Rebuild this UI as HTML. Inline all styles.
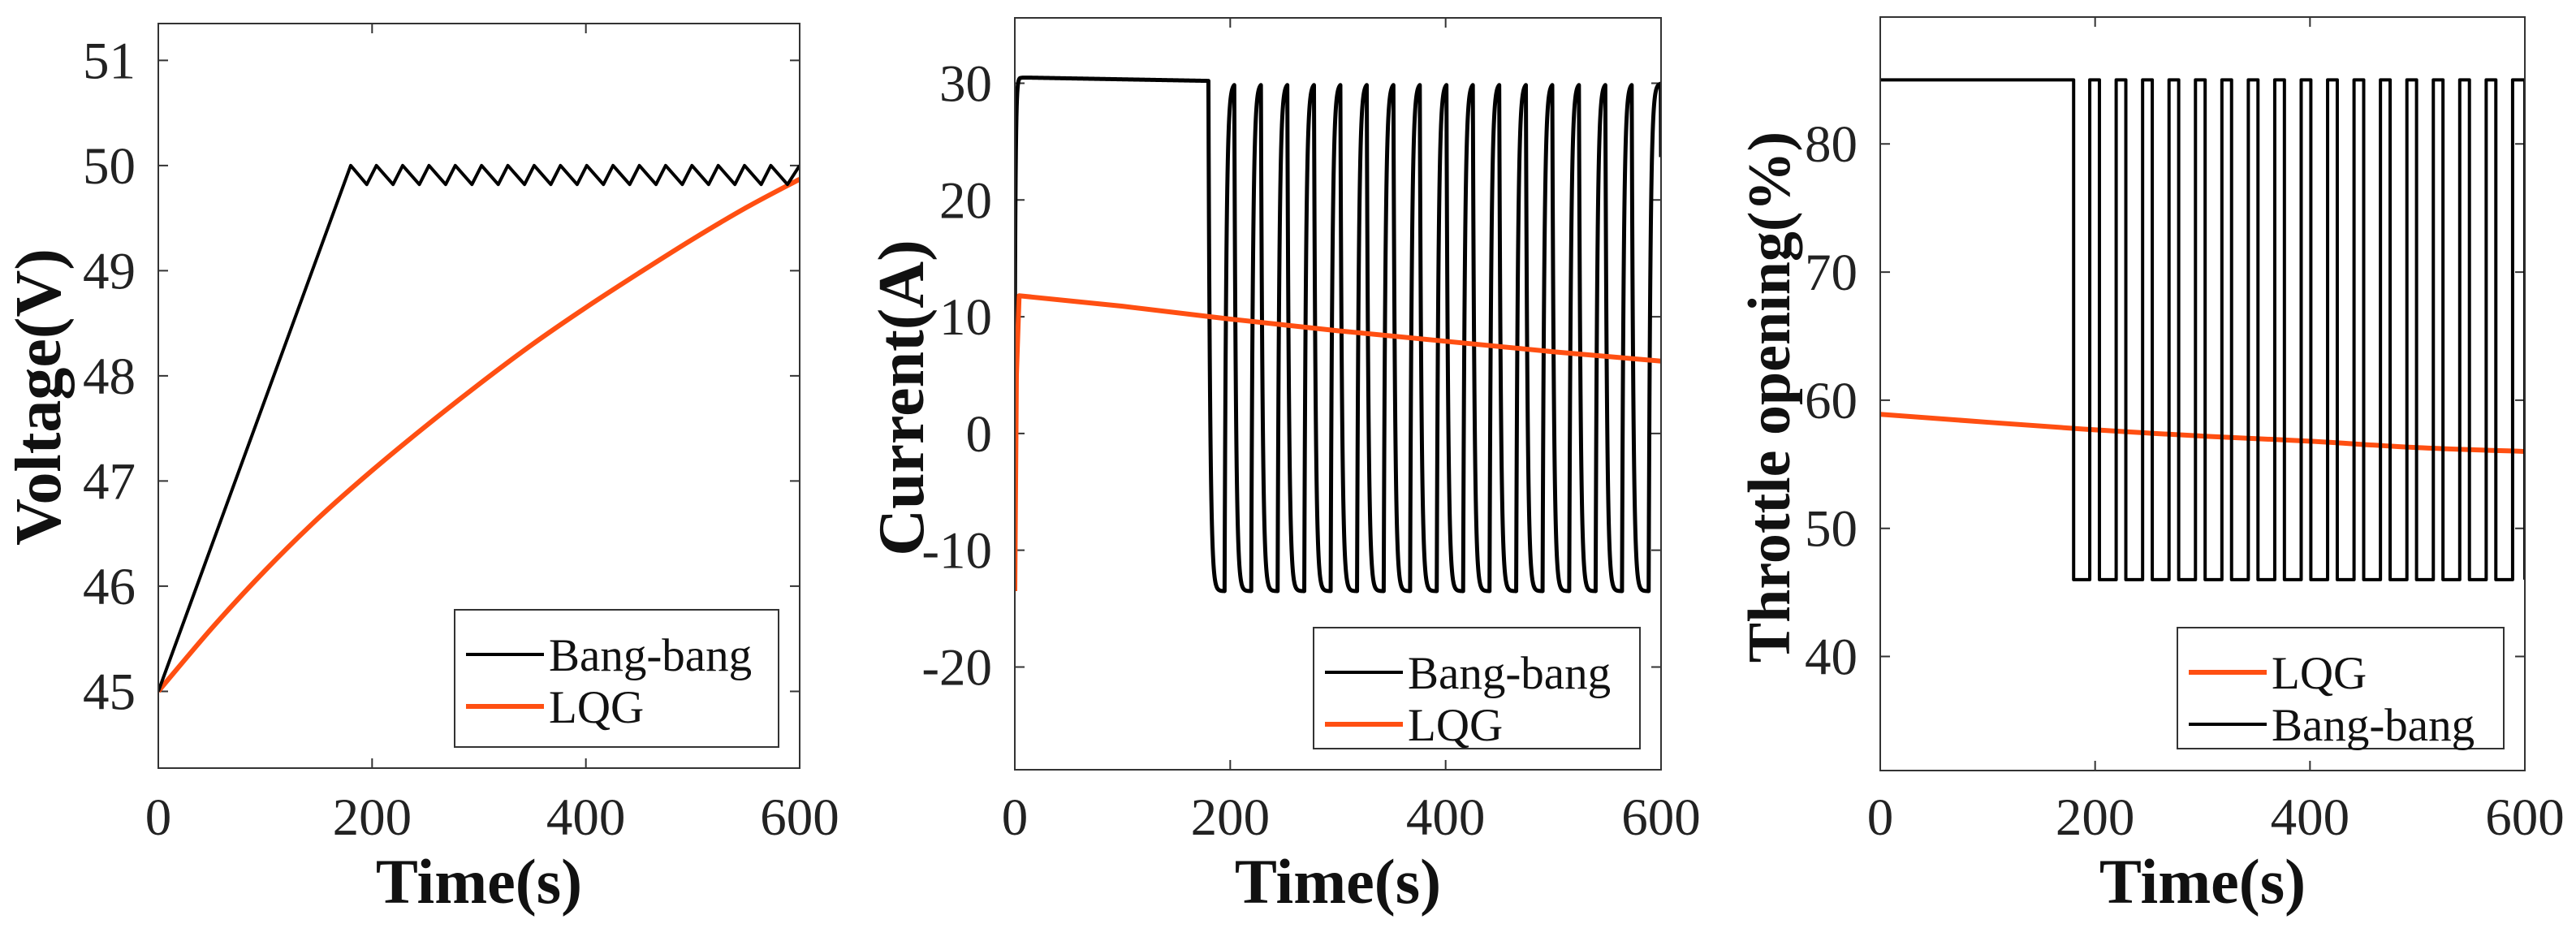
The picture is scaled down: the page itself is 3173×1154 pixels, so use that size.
<!DOCTYPE html>
<html><head><meta charset="utf-8">
<style>
html,body{margin:0;padding:0;background:#fff;}
svg{display:block;font-family:"Liberation Serif",serif;}
</style></head>
<body>
<svg id="fig" width="3173" height="1154" viewBox="0 0 3173 1154" xmlns="http://www.w3.org/2000/svg"></svg>
<script>
// ---- data ----
const xTicks = [0, 200, 400, 600];
const vTicks = [45, 46, 47, 48, 49, 50, 51];
const iTicks = [-20, -10, 0, 10, 20, 30];
const thTicks = [40, 50, 60, 70, 80];
// bang-bang switching instants (s): controller on (up) / off (down)
const bbUp = [195, 219.6, 244.2, 268.8, 293.4, 318, 342.6, 367.2, 391.8, 416.4, 441, 465.6, 490.2, 514.8, 539.4, 564, 588.6];
const bbDown = [204, 228.6, 253.2, 277.8, 302.4, 327, 351.6, 376.2, 400.8, 425.4, 450, 474.6, 499.2, 523.8, 548.4, 573, 600];
const bbFirstOff = 180;
// voltage
const vStart = 45, vHigh = 50, vLow = 49.82;
const lqgVT = [0, 50, 100, 150, 200, 250, 300, 350, 400, 450, 500, 550, 600];
const lqgV = [45, 45.6, 46.15, 46.65, 47.1, 47.52, 47.92, 48.3, 48.65, 48.98, 49.3, 49.6, 49.87];
// current
const iOnStart = 30.5, iOnEnd = 30.2, iOn = 30, iOff = -13.5;
const lqgIT = [0, 1.5, 4, 100, 200, 300, 400, 500, 600];
const lqgI = [-13.5, 5, 11.8, 10.9, 9.8, 8.8, 7.9, 7.0, 6.2];
// throttle
const thHigh = 85, thLow = 46;
const lqgTT = [0, 180, 300, 400, 500, 600];
const lqgT = [58.9, 57.8, 57.2, 56.8, 56.3, 56.0];

const NS = "http://www.w3.org/2000/svg";
const svg = document.getElementById('fig');
function mk(tag, attrs, parent){const e=document.createElementNS(NS,tag);for(const k in attrs)e.setAttribute(k,attrs[k]);(parent||svg).appendChild(e);return e;}

function smoothPath(P){
  let d='M'+P[0][0].toFixed(2)+','+P[0][1].toFixed(2);
  for(let i=0;i<P.length-1;i++){
    const p0=P[Math.max(0,i-1)],p1=P[i],p2=P[i+1],p3=P[Math.min(P.length-1,i+2)];
    const c1=[p1[0]+(p2[0]-p0[0])/6,p1[1]+(p2[1]-p0[1])/6];
    const c2=[p2[0]-(p3[0]-p1[0])/6,p2[1]-(p3[1]-p1[1])/6];
    d+=`C${c1[0].toFixed(2)},${c1[1].toFixed(2)} ${c2[0].toFixed(2)},${c2[1].toFixed(2)} ${p2[0].toFixed(2)},${p2[1].toFixed(2)}`;
  }
  return d;
}

function panel(cfg){
  const g = mk('g',{});
  
  
  const {L,R,T,B,ymin,ymax} = cfg;
  const sx = t => L + (t-0)/(600-0)*(R-L);
  const sy = v => B - (v-ymin)/(ymax-ymin)*(B-T);
  const cid = 'clip-'+cfg.name;
  const cp = mk('clipPath',{id:cid},g); mk('rect',{x:L,y:T,width:R-L,height:B-T},cp);
  xTicks.forEach(t=>{
    const x=sx(t);
    const tk=mk('path',{d:`M${x},${B}V${B-12}M${x},${T}V${T+12}`,stroke:'#333','stroke-width':2},g);
    
    
    const lb=mk('text',{x:x,y:1028,'font-size':65,'text-anchor':'middle',fill:'#222'},g);
    lb.textContent=t;
    
    
  });
  cfg.yTicks.forEach(v=>{
    const y=sy(v);
    const tk=mk('path',{d:`M${L},${y}H${L+12}M${R},${y}H${R-12}`,stroke:'#333','stroke-width':2},g);
    
    
    const lb=mk('text',{x:L-28,y:y+22,'font-size':65,'text-anchor':'end',fill:'#222'},g);
    lb.textContent=v;
    
    
  });
  cfg.series.forEach(s=>{
    const P = s.pts.map(p=>[sx(p[0]),sy(p[1])]);
    const d = s.smooth ? smoothPath(P) : P.map((p,i)=>(i?'L':'M')+p[0].toFixed(2)+','+p[1].toFixed(2)).join('');
    const p=mk('path',{d:d,fill:'none',stroke:s.color,'stroke-width':s.w,'stroke-linejoin':'round','clip-path':`url(#${cid})`},g);
    
    
  });
  const box=mk('rect',{x:L,y:T,width:R-L,height:B-T,fill:'none',stroke:'#333','stroke-width':2},g);
  
  
  const lg=mk('g',{},g);
  
  
  const [lx,ly,lw,lh]=cfg.legend;
  mk('rect',{x:lx,y:ly,width:lw,height:lh,fill:'#fff',stroke:'#333','stroke-width':2},lg);
  cfg.legendItems.forEach((it,i)=>{
    const yy = ly + 55 + i*64;
    const e=mk('g',{},lg);
    
    
    mk('line',{x1:lx+14,x2:lx+110,y1:yy,y2:yy,stroke:it.color,'stroke-width':it.w},e);
    const t=mk('text',{x:lx+116,y:yy+20,'font-size':57,fill:'#111'},e);
    t.textContent=it.label;
  });
  const xl=mk('text',{x:(L+R)/2,y:1112,'font-size':78,'font-weight':'bold','text-anchor':'middle',fill:'#111'},g);
  xl.textContent='Time(s)';
  
  
  const yl=mk('text',{x:0,y:0,'font-size':cfg.ylFont,'font-weight':'bold','text-anchor':'middle',fill:'#111',transform:`translate(${cfg.ylX},${cfg.ylY}) rotate(-90)`},g);
  yl.textContent=cfg.ylabel;
  
  
}

function bbVoltage(){
  const pts=[[0,vStart],[bbFirstOff,vHigh]];
  bbUp.forEach((u,i)=>{pts.push([u,vLow]);pts.push([bbDown[i],vHigh]);});
  return pts;
}
function bbThrottle(){
  const pts=[[0,thHigh],[bbFirstOff,thHigh],[bbFirstOff,thLow]];
  bbUp.forEach((u,i)=>{pts.push([u,thLow],[u,thHigh],[bbDown[i],thHigh],[bbDown[i],thLow]);});
  return pts;
}
function bbCurrent(){
  const tau=1.6, dt=0.25, pts=[];
  let v=0;
  const on=t=>{ if(t<bbFirstOff) return true; for(let i=0;i<bbUp.length;i++){ if(t>=bbUp[i]&&t<bbDown[i]) return true;} return false; };
  for(let t=0;t<=600;t+=dt){
    const target = t<bbFirstOff ? iOnStart+(iOnEnd-iOnStart)*t/bbFirstOff : (on(t)?iOn:iOff);
    v += (target-v)*(1-Math.exp(-dt/(t<5?0.8:tau)));
    pts.push([t,v]);
  }
  return pts;
}
const zip=(a,b)=>a.map((t,i)=>[t,b[i]]);
const ORANGE='#ff4f12';

panel({name:'voltage-panel',L:195,R:985,T:29,B:946,ymin:44.27,ymax:51.35,yTicks:vTicks,
  ylabel:'Voltage(V)',ylX:74,ylY:489,ylFont:80,
  series:[{id:'voltage-lqg-line',pts:zip(lqgVT,lqgV),color:ORANGE,w:6,smooth:true},{id:'voltage-bangbang-line',pts:bbVoltage(),color:'#000',w:4}],
  legend:[560,751,399,169],
  legendItems:[{label:'Bang-bang',color:'#000',w:4},{label:'LQG',color:ORANGE,w:6}]});
panel({name:'current-panel',L:1250,R:2046,T:22,B:948,ymin:-28.8,ymax:35.6,yTicks:iTicks,
  ylabel:'Current(A)',ylX:1137,ylY:490,ylFont:80,
  series:[{id:'current-bangbang-line',pts:bbCurrent(),color:'#000',w:5},{id:'current-lqg-line',pts:zip(lqgIT,lqgI),color:ORANGE,w:6}],
  legend:[1618,773,402,149],
  legendItems:[{label:'Bang-bang',color:'#000',w:4},{label:'LQG',color:ORANGE,w:6}]});
panel({name:'throttle-panel',L:2316,R:3110,T:21,B:949,ymin:31.1,ymax:89.9,yTicks:thTicks,
  ylabel:'Throttle opening(%)',ylX:2204,ylY:489,ylFont:74,
  series:[{id:'throttle-lqg-line',pts:zip(lqgTT,lqgT),color:ORANGE,w:6,smooth:true},{id:'throttle-bangbang-line',pts:bbThrottle(),color:'#000',w:4}],
  legend:[2682,773,402,149],
  legendItems:[{label:'LQG',color:ORANGE,w:6},{label:'Bang-bang',color:'#000',w:4}]});
</script>
</body></html>
